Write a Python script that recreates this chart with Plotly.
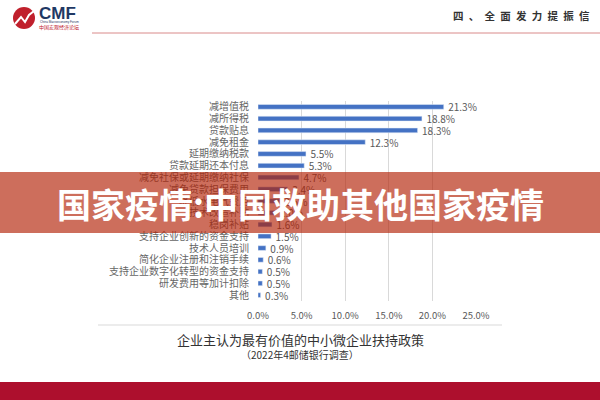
import plotly.graph_objects as go

categories = ["减增值税", "减所得税", "贷款贴息", "减免租金", "延期缴纳税款", "贷款延期还本付息",
              "减免社保或延期缴纳社保", "减免贷款担保费用", "降低水电气费用", "技术改造补贴",
              "稳岗补贴", "支持企业创新的资金支持", "技术人员培训", "简化企业注册和注销手续",
              "支持企业数字化转型的资金支持", "研发费用等加计扣除", "其他"]
values = [21.3, 18.8, 18.3, 12.3, 5.5, 5.3, 4.7, 3.4, 2.5, 2.0, 1.6, 1.5, 0.9, 0.6, 0.5, 0.5, 0.3]
x_ticks = [0, 5, 10, 15, 20, 25]
x_tick_text = ["0.0%", "5.0%", "10.0%", "15.0%", "20.0%", "25.0%"]

FONT = "Noto Sans CJK SC"
W, H = 600, 400
L, R, T, B = 258, 476, 101, 301


def px_x(x):
    return (x - L) / (R - L)


def px_y(y):
    return (B - y) / (B - T)


fig = go.Figure(go.Bar(
    y=categories, x=values, orientation="h",
    marker=dict(color="#4472C4"), width=0.4,
    text=[f"\u00a0\u00a0{v:.1f}%" for v in values], textposition="outside", cliponaxis=False,
    constraintext="none",
    textfont=dict(family=FONT, size=10, color="#595959"),
))

shapes = []
# header red line
shapes.append(dict(type="line", xref="paper", yref="paper",
                   x0=px_x(92), x1=px_x(600), y0=px_y(33), y1=px_y(33),
                   line=dict(color="#d98a8a", width=1)))
# chart frame bottom line
shapes.append(dict(type="line", xref="paper", yref="paper",
                   x0=px_x(98), x1=px_x(502), y0=px_y(325), y1=px_y(325),
                   line=dict(color="#e6e6e6", width=1.5)))
# bottom red stripe
shapes.append(dict(type="rect", xref="paper", yref="paper",
                   x0=px_x(0), x1=px_x(600), y0=px_y(382), y1=px_y(400),
                   fillcolor="#ad0f2d", line=dict(width=0)))
# logo circle
shapes.append(dict(type="circle", xref="paper", yref="paper",
                   x0=px_x(13), x1=px_x(35), y0=px_y(7), y1=px_y(29),
                   fillcolor="#c0202c", line=dict(width=0)))
pts = [(15, 24), (21, 17), (25, 22), (29, 15), (34, 11)]
path = "M " + " L ".join(f"{px_x(a)},{px_y(b)}" for a, b in pts)
shapes.append(dict(type="path", xref="paper", yref="paper", path=path,
                   line=dict(color="white", width=2)))
# banner overlay
shapes.append(dict(type="rect", xref="paper", yref="paper", layer="above",
                   x0=px_x(0), x1=px_x(600), y0=px_y(172), y1=px_y(233),
                   fillcolor="rgb(178,32,5)", opacity=0.65, line=dict(width=0)))

header = "\u2002".join("四、全面发力提振信")

annotations = [
    dict(text="<b>CMF</b>", x=px_x(37), y=px_y(13), xanchor="left", yanchor="middle",
         font=dict(family="Liberation Sans", size=17, color="#1f3864")),
    dict(text="China Macroeconomy Forum", x=px_x(38), y=px_y(22), xanchor="left", yanchor="middle",
         font=dict(family="Liberation Sans", size=3, color="#1f3864")),
    dict(text="中国宏观经济论坛", x=px_x(37), y=px_y(27), xanchor="left", yanchor="middle",
         font=dict(family=FONT, size=5, color="#c0202c")),
    dict(text=f"<b>{header}</b>", x=px_x(451), y=px_y(15), xanchor="left", yanchor="middle",
         font=dict(family=FONT, size=10.5, color="#333333")),
    dict(text="企业主认为最有价值的中小微企业扶持政策", x=px_x(300), y=px_y(339), xanchor="center",
         yanchor="middle", font=dict(family=FONT, size=13, color="#333333")),
    dict(text="（2022年4邮储银行调查）", x=px_x(300), y=px_y(354), xanchor="center",
         yanchor="middle", font=dict(family=FONT, size=10, color="#333333")),
    dict(text="<b>国家疫情:中国救助其他国家疫情</b>", x=px_x(300), y=px_y(203), xanchor="center",
         yanchor="middle", font=dict(family=FONT, size=34, color="white")),
]
for a in annotations:
    a.update(xref="paper", yref="paper", showarrow=False)

fig.update_layout(
    width=W, height=H, margin=dict(l=L, r=W - R, t=T, b=H - B),
    paper_bgcolor="white", plot_bgcolor="white", showlegend=False,
    font=dict(family=FONT, size=9, color="#595959"),
    xaxis=dict(range=[0, 25], tickvals=x_ticks, ticktext=x_tick_text,
               showgrid=True, gridcolor="#d9d9d9", gridwidth=1, zeroline=False,
               showline=False, ticks="outside", ticklen=6, tickcolor="rgba(0,0,0,0)",
               tickfont=dict(family=FONT, size=9.5, color="#595959"), fixedrange=True),
    yaxis=dict(autorange="reversed", showgrid=False, zeroline=False, showline=False,
               tickmode="array", tickvals=categories, ticktext=categories,
               ticks="outside", ticklen=6, tickcolor="rgba(0,0,0,0)",
               tickfont=dict(family=FONT, size=10, color="#666666")),
    shapes=shapes, annotations=annotations,
)
fig.write_html("out.html")
